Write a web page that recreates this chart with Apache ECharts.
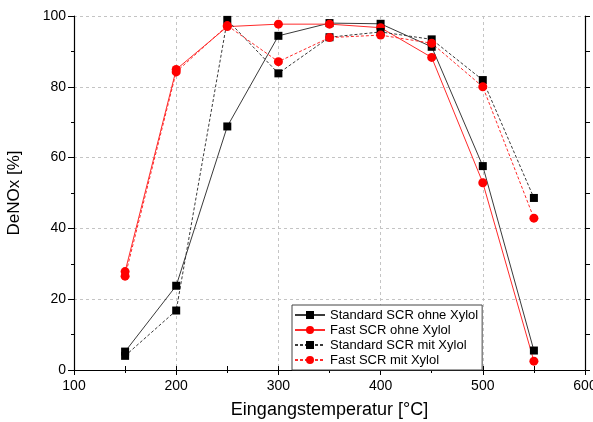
<!DOCTYPE html>
<html>
<head>
<meta charset="utf-8">
<script src="https://cdn.jsdelivr.net/npm/echarts@6/dist/echarts.min.js"></script>
<style>
  html, body { margin: 0; padding: 0; background: #fff; }
  #chart { width: 593px; height: 422px; }
</style>
</head>
<body>
<div id="chart"></div>
<script>
// Eingangstemperatur [°C]
const temps = [150, 200, 250, 300, 350, 400, 450, 500, 550]

// DeNOx [%]
const stdOhne = [5.2, 23.8, 68.8, 94.4, 98.0, 97.8, 91.3, 57.6, 5.5]
const fastOhne = [27.8, 84.9, 97.0, 97.7, 97.7, 96.7, 88.3, 52.9, 2.5]
const stdMit = [4.0, 16.8, 98.9, 83.8, 94.0, 95.5, 93.4, 81.9, 48.6]
const fastMit = [26.5, 84.2, 97.3, 87.1, 93.9, 94.6, 92.3, 80.0, 42.9]

const seriesNames = [
  'Standard SCR ohne Xylol',
  'Fast SCR ohne Xylol',
  'Standard SCR mit Xylol',
  'Fast SCR mit Xylol'
]

const font = 'Liberation Sans, Arial, sans-serif'

function pairs(ys) {
  return temps.map((t, i) => [t, ys[i]])
}

function makeSeries(name, ys, kind, dashed) {
  const isStd = kind === 'std'
  const lineColor = isStd ? '#3a3a3a' : '#ff2a2a'
  const markColor = isStd ? '#000000' : '#ff0000'
  return {
    name,
    type: 'line',
    data: pairs(ys),
    symbol: isStd ? 'rect' : 'circle',
    symbolSize: isStd ? 8 : 9,
    showAllSymbol: true,
    lineStyle: { width: 1, color: lineColor, type: dashed ? [3, 2] : 'solid' },
    itemStyle: { color: markColor, borderWidth: 0 },
    emphasis: { disabled: true },
    animation: false
  }
}

const chart = echarts.init(document.getElementById('chart'), null, { renderer: 'canvas' })

const axisLine = { show: true, lineStyle: { color: '#000', width: 1.2 } }
const gridLine = { show: true, lineStyle: { color: '#c4c4c4', type: [3, 3], width: 1 } }

chart.setOption({
  backgroundColor: '#ffffff',
  textStyle: { fontFamily: font },
  grid: { left: 74, right: 8, top: 16, bottom: 52, containLabel: false, outerBoundsMode: 'none' },
  legend: {
    orient: 'vertical',
    left: 292,
    top: 305,
    itemWidth: 30,
    itemHeight: 10,
    itemGap: 1,
    padding: [3, 4, 3, 2],
    borderColor: '#444',
    borderWidth: 1,
    backgroundColor: '#fff',
    textStyle: { fontFamily: font, fontSize: 13, lineHeight: 14, color: '#000' },
    data: seriesNames
  },
  xAxis: [
    {
      type: 'value',
      min: 100, max: 600, interval: 100,
      name: 'Eingangstemperatur [°C]',
      nameLocation: 'middle',
      nameGap: 31,
      nameTextStyle: { fontFamily: font, fontSize: 18, color: '#000' },
      axisLine,
      axisTick: { show: true, length: 5, lineStyle: { color: '#000' } },
      minorTick: { show: true, splitNumber: 2, length: 3, lineStyle: { color: '#000' } },
      axisLabel: { fontFamily: font, fontSize: 14, color: '#000', margin: 9 },
      splitLine: gridLine
    },
    {
      type: 'value',
      position: 'top',
      min: 100, max: 600, interval: 100,
      axisLine,
      axisTick: { show: true, length: 4, lineStyle: { color: '#000' } },
      minorTick: { show: true, splitNumber: 2, length: 4, lineStyle: { color: '#000' } },
      axisLabel: { show: false },
      splitLine: { show: false }
    }
  ],
  yAxis: [
    {
      type: 'value',
      min: 0, max: 100, interval: 20,
      name: 'DeNOx [%]',
      nameLocation: 'middle',
      nameGap: 51,
      nameTextStyle: { fontFamily: font, fontSize: 17, color: '#000' },
      axisLine,
      axisTick: { show: true, length: 6, lineStyle: { color: '#000' } },
      minorTick: { show: true, splitNumber: 2, length: 3, lineStyle: { color: '#000' } },
      axisLabel: { fontFamily: font, fontSize: 14, color: '#000', margin: 8 },
      splitLine: gridLine
    },
    {
      type: 'value',
      position: 'right',
      min: 0, max: 100, interval: 20,
      axisLine,
      axisTick: { show: true, length: 5, lineStyle: { color: '#000' } },
      minorTick: { show: true, splitNumber: 2, length: 5, lineStyle: { color: '#000' } },
      axisLabel: { show: false },
      splitLine: { show: false }
    }
  ],
  series: [
    makeSeries(seriesNames[0], stdOhne, 'std', false),
    makeSeries(seriesNames[1], fastOhne, 'fast', false),
    makeSeries(seriesNames[2], stdMit, 'std', true),
    makeSeries(seriesNames[3], fastMit, 'fast', true)
  ]
})
</script>
</body>
</html>
